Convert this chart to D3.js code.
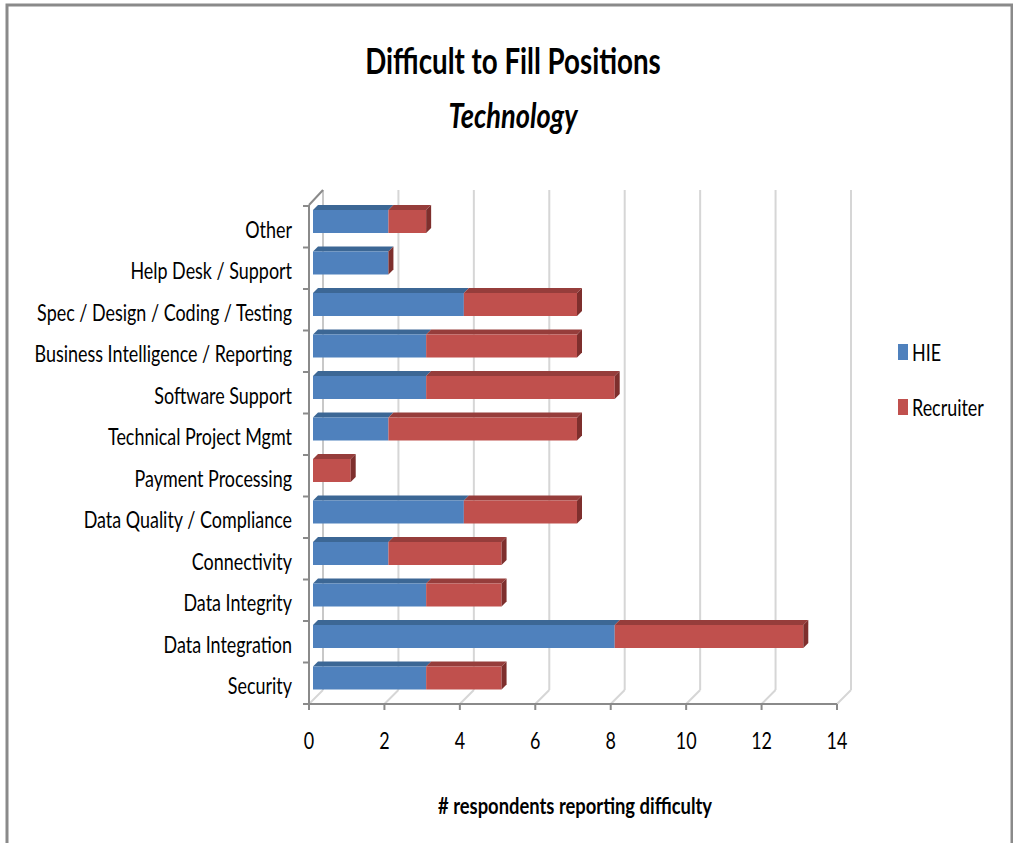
<!DOCTYPE html>
<html>
<head>
<meta charset="utf-8">
<script src="https://cdn.jsdelivr.net/npm/d3@7"></script>
<style>
  body { margin: 0; background: #fff; }
  text { font-family: Lato, "Open Sans", sans-serif; fill: #000; }
</style>
</head>
<body>
<div id="container"></div>
<script>
/* DATA */
var categories = ["Other", "Help Desk / Support", "Spec / Design / Coding / Testing",
  "Business Intelligence / Reporting", "Software Support", "Technical Project Mgmt",
  "Payment Processing", "Data Quality / Compliance", "Connectivity", "Data Integrity",
  "Data Integration", "Security"];
var hie       = [2, 2, 4, 3, 3, 2, 0, 4, 2, 3, 8, 3];
var recruiter = [1, 0, 3, 4, 5, 5, 1, 3, 3, 2, 5, 2];
var seriesNames = ["HIE", "Recruiter"];
var xTicks = [0, 2, 4, 6, 8, 10, 12, 14];

/* CONSTANTS */
var width = 1013, height = 843;
var depth = 14;      // 3d wall depth
var barShift = 4;    // bars sit a bit behind front plane
var barDepth = 5;
var barH = 23;
var sx = 0.78;       // squeeze text like the reference

var front = { HIE: "#4f81bd", Recruiter: "#c0504d" };
var top_ = { HIE: "#3c6795", Recruiter: "#963d3b" };
var side = { HIE: "#34597f", Recruiter: "#7e2f2d" };

var svg = d3.select('#container').append('svg')
  .attr('width', width)
  .attr('height', height);

// frame
svg.append('path')
  .attr('d', 'M7,843 V5 H1012 V843')
  .attr('fill', 'none')
  .attr('stroke', '#8a8a8a')
  .attr('stroke-width', 3);

/* SCALES */
var xScale = d3.scaleLinear().domain([0, 14]).range([309, 837]);
var yScale = d3.scaleBand().domain(categories).range([206, 704]);
var yBottom = 704, yTop = 206;

function label(x, y, str, opts) {
  opts = opts || {};
  var g = svg.append('g').attr('transform', 'translate(' + x + ',' + y + ') scale(' + (opts.sx || sx) + ',1)');
  return g.append('text')
    .attr('text-anchor', opts.anchor || 'middle')
    .attr('dominant-baseline', 'central')
    .style('font-size', (opts.size || 23) + 'px')
    .style('font-weight', opts.weight || 'normal')
    .style('font-style', opts.style || 'normal')
    .text(str);
}

// back gridlines
var grid = svg.append('g');
xTicks.forEach(function(t) {
  if (t > 0) {
    grid.append('line')
      .attr('x1', xScale(t) + depth).attr('x2', xScale(t) + depth)
      .attr('y1', yTop - depth - 2).attr('y2', yBottom - depth)
      .attr('stroke', '#d6d6d6').attr('stroke-width', 2);
  }
  // floor lines
  grid.append('line')
    .attr('x1', xScale(t)).attr('y1', yBottom)
    .attr('x2', xScale(t) + depth).attr('y2', yBottom - depth)
    .attr('stroke', '#d6d6d6').attr('stroke-width', 2);
});

// left wall back line and top edge
svg.append('line')
  .attr('x1', xScale(0) + depth).attr('x2', xScale(0) + depth)
  .attr('y1', yTop - depth - 2).attr('y2', yBottom - depth)
  .attr('stroke', '#c8c8c8').attr('stroke-width', 2);
svg.append('line')
  .attr('x1', xScale(0)).attr('y1', yTop - 1)
  .attr('x2', xScale(0) + depth).attr('y2', yTop - depth - 2)
  .attr('stroke', '#8a8a8a').attr('stroke-width', 2);

// front axes
svg.append('line')
  .attr('x1', xScale(0)).attr('x2', xScale(0))
  .attr('y1', yTop - 1).attr('y2', yBottom)
  .attr('stroke', '#8a8a8a').attr('stroke-width', 2);
svg.append('line')
  .attr('x1', xScale(0)).attr('x2', xScale(14))
  .attr('y1', yBottom).attr('y2', yBottom)
  .attr('stroke', '#8a8a8a').attr('stroke-width', 2);
xTicks.forEach(function(t) {
  svg.append('line')
    .attr('x1', xScale(t)).attr('x2', xScale(t))
    .attr('y1', yBottom).attr('y2', yBottom + 6)
    .attr('stroke', '#8a8a8a').attr('stroke-width', 2);
  label(xScale(t), 740, t);
});
var bounds = categories.map(function(c) { return yScale(c); }).concat([yBottom]);
bounds.forEach(function(b) {
  svg.append('line')
    .attr('x1', xScale(0) - 6).attr('x2', xScale(0))
    .attr('y1', b).attr('y2', b)
    .attr('stroke', '#8a8a8a').attr('stroke-width', 2);
});

/* BARS */
var bars = svg.append('g');
categories.forEach(function(c, i) {
  var segs = [
    { key: "HIE", x0: 0, x1: hie[i] },
    { key: "Recruiter", x0: hie[i], x1: hie[i] + recruiter[i] }
  ];
  var by = yScale(c) + barShift;
  segs.forEach(function(s) {
    if (s.x1 <= s.x0) return;
    var a = xScale(s.x0) + barShift, b = xScale(s.x1) + barShift;
    bars.append('polygon')
      .attr('points', [[a, by], [b, by], [b + barDepth, by - barDepth], [a + barDepth, by - barDepth]].join(' '))
      .attr('fill', top_[s.key]);
    bars.append('rect')
      .attr('x', a).attr('y', by)
      .attr('width', b - a).attr('height', barH)
      .attr('fill', front[s.key]);
  });
  // side face at stack end
  var e = xScale(hie[i] + recruiter[i]) + barShift;
  bars.append('polygon')
    .attr('points', [[e, by], [e + barDepth, by - barDepth], [e + barDepth, by - barDepth + barH], [e, by + barH]].join(' '))
    .attr('fill', side.Recruiter);
  // category label
  label(292, yScale(c) + yScale.bandwidth() / 2 + 2, c, { anchor: 'end' });
});

/* TITLES */
label(513, 60, "Difficult to Fill Positions", { size: 36, weight: 'bold', sx: 0.77 });
label(513, 115, "Technology", { size: 34, weight: 'bold', style: 'italic', sx: 0.8 });
label(575, 805, "# respondents reporting difficulty", { size: 23, weight: 'bold', sx: 0.8 });

/* LEGEND */
var legY = [352, 407];
seriesNames.forEach(function(n, i) {
  svg.append('rect')
    .attr('x', 898).attr('y', legY[i] - 8)
    .attr('width', 10).attr('height', 16)
    .attr('fill', front[n]);
  label(912, legY[i], n, { anchor: 'start' });
});
</script>
</body>
</html>
